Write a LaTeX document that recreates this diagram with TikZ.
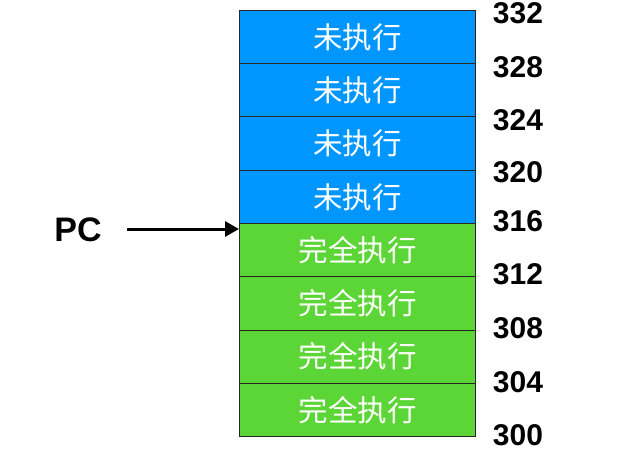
\documentclass[tikz,border=0pt]{standalone}
\usepackage{fontspec}
\setmainfont{Liberation Sans}
\newfontfamily\cjk{Noto Sans CJK SC}
\usetikzlibrary{arrows.meta}
\definecolor{blueC}{RGB}{0,150,255}
\definecolor{greenC}{RGB}{92,214,54}
\begin{document}
\begin{tikzpicture}[x=1pt,y=-1pt,
  cell/.style={draw=black!85, line width=1pt, minimum width=236pt, minimum height=53.25pt,
    inner sep=0pt, anchor=north west, text=white, font=\cjk\fontsize{29.5}{32}\selectfont},
  todo/.style={cell, fill=blueC},
  done/.style={cell, fill=greenC},
  addr/.style={font=\bfseries\fontsize{30}{32}\selectfont, inner sep=0pt},
]
\useasboundingbox (0,0) rectangle (628,473);
\node[todo] (b1) at (239,10) {未执行};
\node[todo] (b2) at (239,63.25) {未执行};
\node[todo] (b3) at (239,116.5) {未执行};
\node[todo] (b4) at (239,169.75) {未执行};
\node[done] (b5) at (239,223) {完全执行};
\node[done] (b6) at (239,276.25) {完全执行};
\node[done] (b7) at (239,329.5) {完全执行};
\node[done] (b8) at (239,382.75) {完全执行};
\node[addr] (a332) at (518,13) {332};
\node[addr] (a328) at (518,67) {328};
\node[addr] (a324) at (518,120) {324};
\node[addr] (a320) at (518,172) {320};
\node[addr] (a316) at (518,221) {316};
\node[addr] (a312) at (518,274) {312};
\node[addr] (a308) at (518,328) {308};
\node[addr] (a304) at (518,382) {304};
\node[addr] (a300) at (518,435) {300};
\node[font=\bfseries\fontsize{34}{36}\selectfont, inner sep=0pt] (pc) at (78,230) {PC};
\coordinate (pcstart) at (127,229);
\draw[line width=3pt, -{Triangle[length=14pt,width=15pt]}] (pcstart) -- (pcstart -| b5.west);
\end{tikzpicture}
\end{document}
